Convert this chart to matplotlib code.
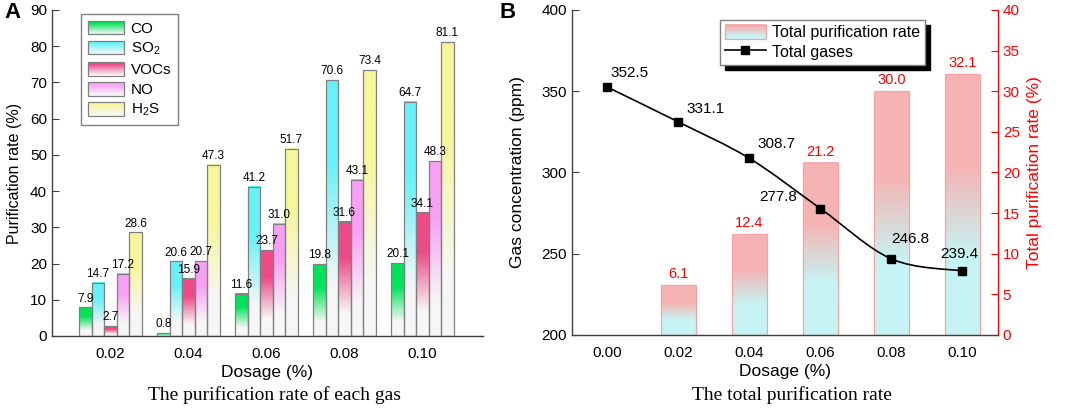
"""Two-panel figure: purification rate of each gas (A) and total purification (B)."""
import numpy as np
import matplotlib

matplotlib.use("Agg")
import matplotlib.pyplot as plt
from matplotlib.colors import to_rgb
from matplotlib.legend_handler import HandlerBase
from matplotlib.lines import Line2D
from matplotlib.patches import Patch, PathPatch, Rectangle
from matplotlib.path import Path

plt.rcParams.update({
    "font.family": "Liberation Sans",
    "mathtext.fontset": "custom",
    "mathtext.rm": "Liberation Sans",
    "mathtext.it": "Liberation Sans:italic",
    "axes.linewidth": 1.0,
})

# ---- data -------------------------------------------------------------
DOSAGE = [0.02, 0.04, 0.06, 0.08, 0.10]
GAS_LABELS = ["CO", "SO$_2$", "VOCs", "NO", "H$_2$S"]
CO_RATE = [7.9, 0.8, 11.6, 19.8, 20.1]
SO2_RATE = [14.7, 20.6, 41.2, 70.6, 64.7]
VOC_RATE = [2.7, 15.9, 23.7, 31.6, 34.1]
NO_RATE = [17.2, 20.7, 31.0, 43.1, 48.3]
H2S_RATE = [28.6, 47.3, 51.7, 73.4, 81.1]

DOSAGE_B = [0.00, 0.02, 0.04, 0.06, 0.08, 0.10]
TOTAL_GAS = [352.5, 331.1, 308.7, 277.8, 246.8, 239.4]
TOTAL_RATE = [6.1, 12.4, 21.2, 30.0, 32.1]

# ---- styles -----------------------------------------------------------
GAS_COLORS = ["#00e35a", "#66f2fa", "#ee4a88", "#f7a0f5", "#f6f69c"]
BASE = "#f6f6f6"
BAR_TOP = "#f6b3b3"
BAR_BOT = "#c6f4f4"
LINE_OFFSETS = [(2, 5, "left"), (6, 4, "left"), (6, 5, "left"),
                (-17, 3, "right"), (0, 9, "left"), (-2, 7, "center")]


def blend(top, bottom, t, lo, hi):
    f = np.clip((t - lo) / (hi - lo), 0, 1)
    return np.array(to_rgb(bottom)) * (1 - f) + np.array(to_rgb(top)) * f


def gradient_fill(ax, rect, top, bottom, lo, hi):
    t = np.linspace(0, 1, 80)
    img = np.array([blend(top, bottom, v, lo, hi) for v in t])[:, None, :]
    x0, y0 = rect.get_x(), rect.get_y()
    ax.imshow(img, extent=(x0, x0 + rect.get_width(), y0, y0 + rect.get_height()),
              origin="lower", aspect="auto", interpolation="bilinear",
              zorder=rect.get_zorder() - 0.5)


class HandlerGradient(HandlerBase):
    def __init__(self, top, bottom, lo, hi, edge):
        super().__init__()
        self.top, self.bottom, self.lo, self.hi, self.edge = top, bottom, lo, hi, edge

    def create_artists(self, legend, orig_handle, xdescent, ydescent,
                       width, height, fontsize, trans):
        n = 30
        arts = []
        for i in range(n):
            c = blend(self.top, self.bottom, (i + 0.5) / n, self.lo, self.hi)
            arts.append(Rectangle((-xdescent, -ydescent + height * i / n), width,
                                  height / n * 1.1, facecolor=c, edgecolor="none",
                                  transform=trans))
        arts.append(Rectangle((-xdescent, -ydescent), width, height, facecolor="none",
                              edgecolor=self.edge, lw=0.9, transform=trans))
        return arts


fig = plt.figure(figsize=(10.65, 4.08), dpi=100)

# ---- panel A ----------------------------------------------------------
axA = fig.add_axes([0.0488, 0.1765, 0.4047, 0.799])
w = 0.0032
series = [CO_RATE, SO2_RATE, VOC_RATE, NO_RATE, H2S_RATE]
for k, (vals, col) in enumerate(zip(series, GAS_COLORS)):
    xs = [d + (k - 2) * w for d in DOSAGE]
    bars = axA.bar(xs, vals, w, facecolor="none", edgecolor="#808080",
                   linewidth=0.9, zorder=3)
    for b, v in zip(bars, vals):
        gradient_fill(axA, b, col, BASE, 0.2, 0.68)
        axA.annotate(f"{v:.1f}", (b.get_x() + w / 2, v), xytext=(0, 2),
                     textcoords="offset points", ha="center", va="bottom",
                     fontsize=8.5, zorder=5)

axA.set_xlim(0.005, 0.1155)
axA.set_ylim(0, 90)
axA.set_xticks(DOSAGE)
axA.set_xticklabels([f"{d:.2f}" for d in DOSAGE])
axA.set_yticks(range(0, 91, 10))
axA.tick_params(axis="y", direction="in", length=5, labelsize=11, color="#404040")
axA.tick_params(axis="x", length=0, pad=8, labelsize=11)
for s in ("top", "right"):
    axA.spines[s].set_visible(False)
for s in ("left", "bottom"):
    axA.spines[s].set_color("#404040")
axA.set_xlabel("Dosage (%)", fontsize=12.5, labelpad=3)
axA.set_ylabel("Purification rate (%)", fontsize=11.5, labelpad=6)

hA = [Patch() for _ in GAS_LABELS]
legA = axA.legend(hA, GAS_LABELS, loc="upper left", bbox_to_anchor=(0.067, 0.988),
                  borderaxespad=0, fancybox=False, framealpha=1, edgecolor="#808080",
                  fontsize=11, handlelength=2.4, handleheight=1.0, labelspacing=0.32,
                  handletextpad=0.4, borderpad=0.45,
                  handler_map={h: HandlerGradient(c, BASE, 0.05, 0.85, "#808080")
                               for h, c in zip(hA, GAS_COLORS)})
legA.get_frame().set_linewidth(1.0)

# ---- panel B ----------------------------------------------------------
axB = fig.add_axes([0.537, 0.179, 0.400, 0.7965])
ax2 = axB.twinx()
axB.set_zorder(ax2.get_zorder() + 1)
axB.patch.set_visible(False)

bars = ax2.bar(DOSAGE_B[1:], TOTAL_RATE, 0.01, facecolor="none",
               edgecolor="#f7a3a3", linewidth=0.9, zorder=3)
for b, v in zip(bars, TOTAL_RATE):
    gradient_fill(ax2, b, BAR_TOP, BAR_BOT, 0.3, 0.65)
    ax2.annotate(f"{v:.1f}", (b.get_x() + b.get_width() / 2, v), xytext=(0, 3),
                 textcoords="offset points", ha="center", va="bottom",
                 fontsize=10.5, color="red")

# smooth curve through the points (Catmull-Rom as cubic Bezier path)
P = np.column_stack([DOSAGE_B, TOTAL_GAS])
Pe = np.vstack([P[0], P, P[-1]])
verts, codes = [P[0]], [Path.MOVETO]
for i in range(len(P) - 1):
    p0, p1, p2, p3 = Pe[i], Pe[i + 1], Pe[i + 2], Pe[i + 3]
    verts += [p1 + (p2 - p0) / 6, p2 - (p3 - p1) / 6, p2]
    codes += [Path.CURVE4] * 3
axB.add_patch(PathPatch(Path(verts, codes), facecolor="none", edgecolor="black",
                        linewidth=1.2, zorder=3))
axB.plot(DOSAGE_B, TOTAL_GAS, linestyle="none", marker="s", color="black",
         markersize=6, zorder=4)
for x, y, (dx, dy, ha) in zip(DOSAGE_B, TOTAL_GAS, LINE_OFFSETS):
    axB.annotate(f"{y:.1f}", (x, y), xytext=(dx, dy), textcoords="offset points",
                 ha=ha, va="bottom", fontsize=11)

axB.set_xlim(-0.01, 0.11)
axB.set_ylim(200, 400)
ax2.set_ylim(0, 40)
axB.set_xticks(DOSAGE_B)
axB.set_xticklabels([f"{d:.2f}" for d in DOSAGE_B])
axB.set_yticks(range(200, 401, 50))
ax2.set_yticks(range(0, 41, 5))
axB.tick_params(axis="y", direction="in", length=5, labelsize=11, color="#404040")
axB.tick_params(axis="x", length=0, pad=8, labelsize=11)
ax2.tick_params(axis="y", direction="in", length=5, labelsize=11, color="red",
                labelcolor="red")
for s in ("top", "right"):
    axB.spines[s].set_visible(False)
for s in ("top", "left", "bottom"):
    ax2.spines[s].set_visible(False)
for s in ("left", "bottom"):
    axB.spines[s].set_color("#404040")
ax2.spines["right"].set_color("red")
axB.set_xlabel("Dosage (%)", fontsize=12.5, labelpad=3)
axB.set_ylabel("Gas concentration (ppm)", fontsize=12.5, labelpad=12)
ax2.set_ylabel("Total purification rate (%)", fontsize=12.5, color="red", labelpad=5)

hBar = Patch()
hLine = Line2D([], [], color="black", marker="s", markersize=6, linewidth=1.2)
legB = axB.legend([hBar, hLine], ["Total purification rate", "Total gases"],
                  loc="upper left", bbox_to_anchor=(0.347, 0.97), borderaxespad=0,
                  fancybox=False, framealpha=1, edgecolor="#808080", fontsize=11.5,
                  handlelength=2.6, handleheight=1.0, labelspacing=0.25,
                  handletextpad=0.35, borderpad=0.3,
                  shadow=dict(ox=4, oy=-4, facecolor="black", edgecolor="black", alpha=1),
                  handler_map={hBar: HandlerGradient(BAR_TOP, BAR_BOT, 0.2, 0.8, "#f7a3a3")})
legB.set_zorder(10)

# ---- panel letters and captions -----------------------------------------
fig.text(0.004, 0.995, "A", fontsize=16, fontweight="bold", va="top")
fig.text(0.469, 0.995, "B", fontsize=16, fontweight="bold", va="top")
fig.text(0.258, 0.032, "The purification rate of each gas", family="Liberation Serif",
         fontsize=14, ha="center", va="center")
fig.text(0.744, 0.032, "The total purification rate", family="Liberation Serif",
         fontsize=14, ha="center", va="center")

fig.savefig("out.png", dpi=100)
